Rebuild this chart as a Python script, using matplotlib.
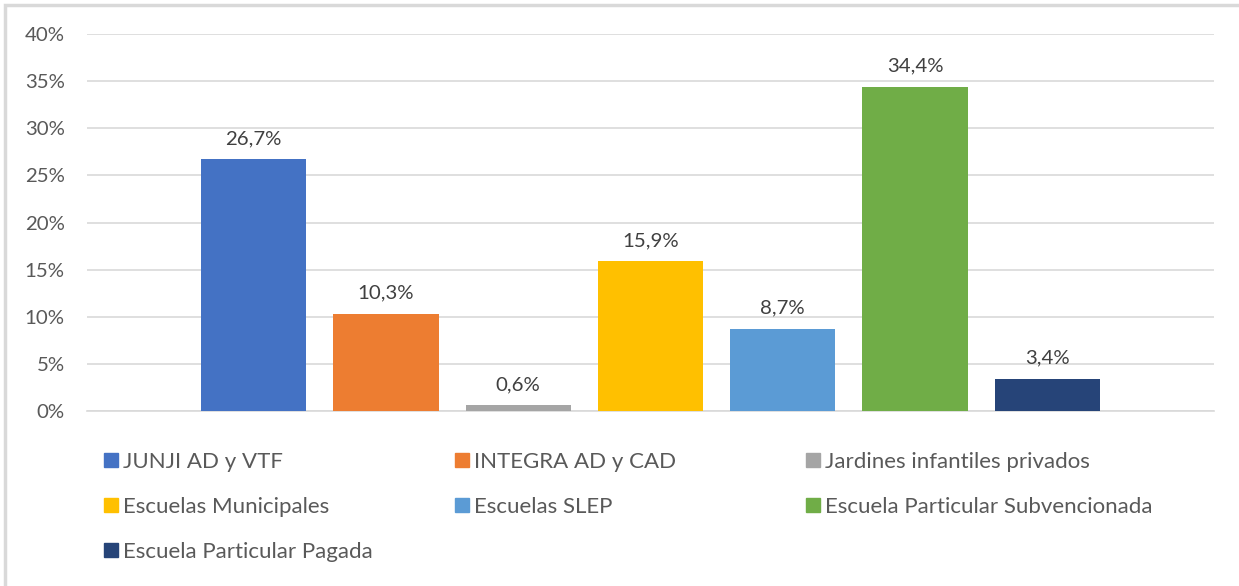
import matplotlib.pyplot as plt
from matplotlib.patches import Rectangle, Patch

categorias = ["JUNJI AD y VTF", "INTEGRA AD y CAD", "Jardines infantiles privados",
              "Escuelas Municipales", "Escuelas SLEP", "Escuela Particular Subvencionada",
              "Escuela Particular Pagada"]
valores = [26.7, 10.3, 0.6, 15.9, 8.7, 34.4, 3.4]
colores = ["#4472C4", "#ED7D31", "#A5A5A5", "#FFC000", "#5B9BD5", "#70AD47", "#264478"]
ticks_y = [0, 5, 10, 15, 20, 25, 30, 35, 40]

plt.rcParams['font.family'] = ['Lato', 'DejaVu Sans']
texto = "#595959"
fs = 14.7

W, H = 1239, 586
fig = plt.figure(figsize=(W / 100, H / 100), dpi=100)

# marco del gráfico
fig.patches.append(Rectangle((5 / W, -0.1), 1.2, (H - 5) / H + 0.1, transform=fig.transFigure,
                             fill=False, edgecolor="#D9D9D9", linewidth=2.5))

ax = fig.add_axes([87 / W, 1 - 411 / H, (1214 - 87) / W, (411 - 34) / H])
ancho = 0.795
x = list(range(len(valores)))
ax.bar(x, valores, width=ancho, color=colores, zorder=3)
for xi, v in zip(x, valores):
    ax.text(xi, v + 1.3, f"{v:.1f}%".replace(".", ","), ha="center", va="bottom",
            fontsize=fs, color="#404040")

ax.set_xlim(-1.26, 7.26)
ax.set_ylim(0, 40)
ax.set_yticks(ticks_y)
ax.set_yticklabels([f"{t}%" for t in ticks_y], fontsize=fs, color=texto)
ax.set_xticks([])
ax.grid(axis="y", color="#D9D9D9", linewidth=1.2, zorder=0)
ax.tick_params(axis="y", length=0, pad=16)
for s in ["top", "right", "left"]:
    ax.spines[s].set_visible(False)
ax.spines["bottom"].set_color("#D9D9D9")
ax.spines["bottom"].set_linewidth(1.2)

# leyenda en tres columnas, llenadas por filas
col_x = [104, 455, 806]
for c in range(3):
    idx = list(range(c, len(categorias), 3))
    fig.legend([Patch(color=colores[i]) for i in idx], [categorias[i] for i in idx],
               loc="upper left", bbox_to_anchor=(col_x[c] / W, 1 - 452 / H),
               frameon=False, fontsize=16, labelcolor=texto, borderaxespad=0,
               borderpad=0, handlelength=0.62, handleheight=0.62, handletextpad=0.22,
               labelspacing=1.12)

fig.savefig("out.png", dpi=100)
